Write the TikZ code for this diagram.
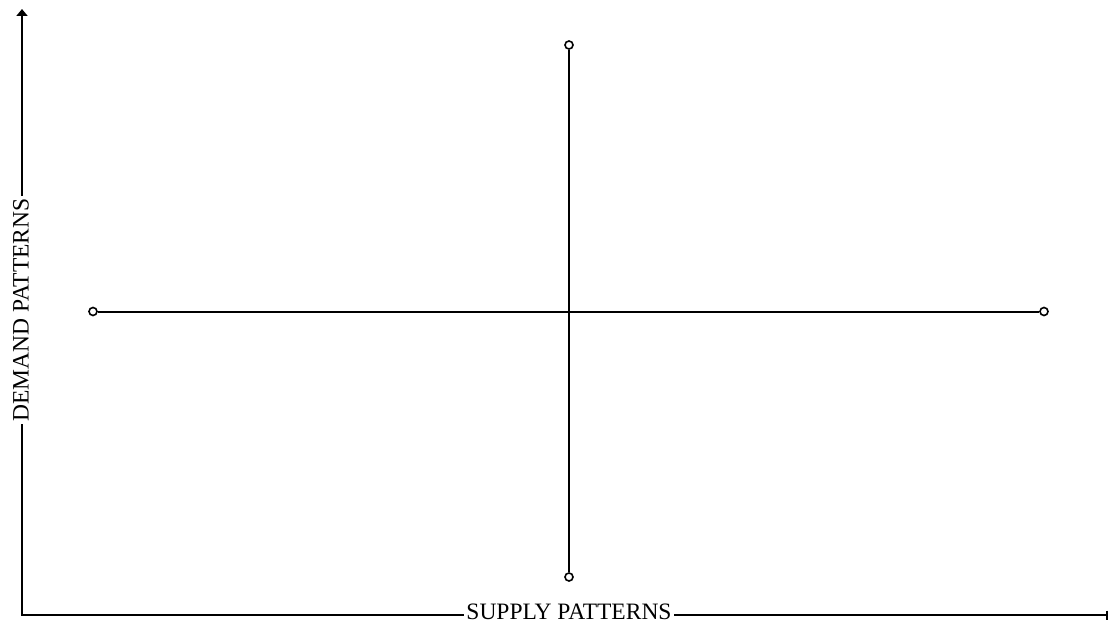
\documentclass[tikz,border=0pt]{standalone}
\usepackage{fontspec}
\setmainfont{Liberation Serif}
\usetikzlibrary{arrows.meta}
\begin{document}
\begin{tikzpicture}[x=1pt,y=-1pt,
  axisline/.style={line width=2pt},
  crossline/.style={line width=2pt},
  endpt/.style={circle,draw,line width=1.6pt,fill=white,inner sep=0pt,minimum size=8pt},
  axislabel/.style={fill=white,inner sep=2.5pt,font=\fontsize{23.5}{23.5}\selectfont}]
\useasboundingbox (0,0) rectangle (1109,626);
% axes
\coordinate (top) at (22,9);
\coordinate (origin) at (22,615);
\coordinate (right) at (1108,615);
\draw[axisline,{Triangle[length=7pt,width=11pt]}-{Bar[width=9pt]}] (top) -- (origin) -- (right);
\node[axislabel,anchor=base] (supply) at (569,619.5) {SUPPLY PATTERNS};
\node[axislabel,anchor=base,rotate=90] (demand) at (28.5,310) {DEMAND PATTERNS};
% cross
\node[endpt] (n) at (569,45) {};
\node[endpt] (s) at (569,577) {};
\node[endpt] (w) at (93,311.5) {};
\node[endpt] (e) at (1044,311.5) {};
\draw[crossline] (n) -- (s);
\draw[crossline] (w) -- (e);
\end{tikzpicture}
\end{document}
